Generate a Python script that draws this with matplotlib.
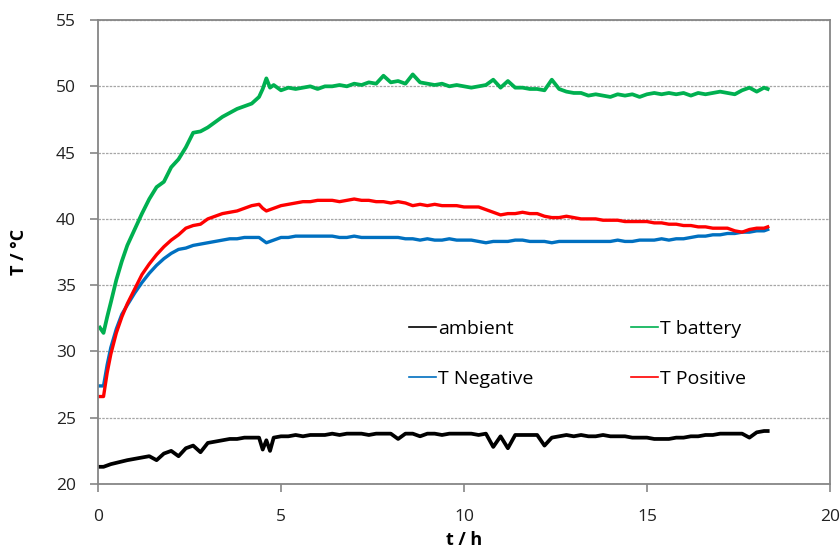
import numpy as np
import matplotlib
matplotlib.use("Agg")
import matplotlib.pyplot as plt

plt.rcParams['font.family'] = ['Open Sans', 'DejaVu Sans']

# ===== data =====
t_h = [0.05, 0.15, 0.25, 0.35, 0.5, 0.65, 0.8, 1.0,
       1.2, 1.4, 1.6, 1.8, 2.0, 2.2, 2.4, 2.6, 2.8, 3.0, 3.2, 3.4, 3.6, 3.8, 4.0, 4.2, 4.4,
       4.5, 4.6, 4.7, 4.8,
       5.0, 5.2, 5.4, 5.6, 5.8, 6.0, 6.2, 6.4, 6.6, 6.8, 7.0, 7.2, 7.4, 7.6, 7.8,
       8.0, 8.2, 8.4, 8.6, 8.8, 9.0, 9.2, 9.4, 9.6, 9.8, 10.0, 10.2, 10.4, 10.6, 10.8,
       11.0, 11.2, 11.4, 11.6, 11.8, 12.0, 12.2, 12.4, 12.6, 12.8, 13.0, 13.2, 13.4, 13.6, 13.8,
       14.0, 14.2, 14.4, 14.6, 14.8, 15.0, 15.2, 15.4, 15.6, 15.8, 16.0, 16.2, 16.4, 16.6, 16.8,
       17.0, 17.2, 17.4, 17.6, 17.8, 18.0, 18.2, 18.3]

ambient = [21.3, 21.3, 21.4, 21.5, 21.6, 21.7, 21.8, 21.9,
           22.0, 22.1, 21.8, 22.3, 22.5, 22.1, 22.7, 22.9, 22.4, 23.1, 23.2, 23.3, 23.4, 23.4, 23.5, 23.5, 23.5,
           22.6, 23.3, 22.5, 23.5,
           23.6, 23.6, 23.7, 23.6, 23.7, 23.7, 23.7, 23.8, 23.7, 23.8, 23.8, 23.8, 23.7, 23.8, 23.8,
           23.8, 23.4, 23.8, 23.8, 23.6, 23.8, 23.8, 23.7, 23.8, 23.8, 23.8, 23.8, 23.7, 23.8, 22.8,
           23.6, 22.7, 23.7, 23.7, 23.7, 23.7, 22.9, 23.5, 23.6, 23.7, 23.6, 23.7, 23.6, 23.6, 23.7,
           23.6, 23.6, 23.6, 23.5, 23.5, 23.5, 23.4, 23.4, 23.4, 23.5, 23.5, 23.6, 23.6, 23.7, 23.7,
           23.8, 23.8, 23.8, 23.8, 23.5, 23.9, 24.0, 24.0]

t_battery = [31.8, 31.4, 32.6, 33.7, 35.4, 36.8, 38.0, 39.2,
             40.4, 41.5, 42.4, 42.8, 43.9, 44.5, 45.4, 46.5, 46.6, 46.9, 47.3, 47.7, 48.0, 48.3, 48.5, 48.7, 49.2,
             49.8, 50.6, 49.9, 50.1,
             49.7, 49.9, 49.8, 49.9, 50.0, 49.8, 50.0, 50.0, 50.1, 50.0, 50.2, 50.1, 50.3, 50.2, 50.8,
             50.3, 50.4, 50.2, 50.9, 50.3, 50.2, 50.1, 50.2, 50.0, 50.1, 50.0, 49.9, 50.0, 50.1, 50.5,
             49.9, 50.4, 49.9, 49.9, 49.8, 49.8, 49.7, 50.5, 49.8, 49.6, 49.5, 49.5, 49.3, 49.4, 49.3,
             49.2, 49.4, 49.3, 49.4, 49.2, 49.4, 49.5, 49.4, 49.5, 49.4, 49.5, 49.3, 49.5, 49.4, 49.5,
             49.6, 49.5, 49.4, 49.7, 49.9, 49.6, 49.9, 49.8]

t_negative = [27.4, 27.4, 29.0, 30.3, 31.7, 32.8, 33.5, 34.4,
              35.2, 35.9, 36.5, 37.0, 37.4, 37.7, 37.8, 38.0, 38.1, 38.2, 38.3, 38.4, 38.5, 38.5, 38.6, 38.6, 38.6,
              38.4, 38.2, 38.3, 38.4,
              38.6, 38.6, 38.7, 38.7, 38.7, 38.7, 38.7, 38.7, 38.6, 38.6, 38.7, 38.6, 38.6, 38.6, 38.6,
              38.6, 38.6, 38.5, 38.5, 38.4, 38.5, 38.4, 38.4, 38.5, 38.4, 38.4, 38.4, 38.3, 38.2, 38.3,
              38.3, 38.3, 38.4, 38.4, 38.3, 38.3, 38.3, 38.2, 38.3, 38.3, 38.3, 38.3, 38.3, 38.3, 38.3,
              38.3, 38.4, 38.3, 38.3, 38.4, 38.4, 38.4, 38.5, 38.4, 38.5, 38.5, 38.6, 38.7, 38.7, 38.8,
              38.8, 38.9, 38.9, 39.0, 39.0, 39.1, 39.1, 39.2]

t_positive = [26.6, 26.6, 28.4, 29.8, 31.4, 32.6, 33.6, 34.7,
              35.8, 36.6, 37.3, 37.9, 38.4, 38.8, 39.3, 39.5, 39.6, 40.0, 40.2, 40.4, 40.5, 40.6, 40.8, 41.0, 41.1,
              40.8, 40.6, 40.7, 40.8,
              41.0, 41.1, 41.2, 41.3, 41.3, 41.4, 41.4, 41.4, 41.3, 41.4, 41.5, 41.4, 41.4, 41.3, 41.3,
              41.2, 41.3, 41.2, 41.0, 41.1, 41.0, 41.1, 41.0, 41.0, 41.0, 40.9, 40.9, 40.9, 40.7, 40.5,
              40.3, 40.4, 40.4, 40.5, 40.4, 40.4, 40.2, 40.1, 40.1, 40.2, 40.1, 40.0, 40.0, 40.0, 39.9,
              39.9, 39.9, 39.8, 39.8, 39.8, 39.8, 39.7, 39.7, 39.6, 39.6, 39.5, 39.5, 39.4, 39.4, 39.3,
              39.3, 39.3, 39.1, 39.0, 39.2, 39.3, 39.3, 39.4]

# ===== figure =====
fig = plt.figure(figsize=(8.4, 5.57), dpi=100)
ax = fig.add_axes([0.1167, 0.131, 0.8713, 0.833])

ax.plot(t_h, ambient, color='black', lw=2.7, label='ambient')
ax.plot(t_h, t_battery, color='#00B050', lw=2.7, label='T battery')
ax.plot(t_h, t_negative, color='#0070C0', lw=2.4, label='T Negative')
ax.plot(t_h, t_positive, color='#FF0000', lw=2.4, label='T Positive')

ax.set_xlim(0, 20)
ax.set_ylim(20, 55)
ax.set_xticks([0, 5, 10, 15, 20])
ax.set_yticks([20, 25, 30, 35, 40, 45, 50, 55])
ax.grid(True, axis='y', color='#a6a6a6', linestyle=(0, (2, 1)), lw=0.9)
ax.set_axisbelow(True)

for s in ax.spines.values():
    s.set_color('#868686')
    s.set_linewidth(1.3)

ax.tick_params(axis='both', direction='out', length=6, width=1.2, color='#868686',
               labelsize=12.5, labelcolor='#222222')
ax.tick_params(axis='y', pad=10)
ax.tick_params(axis='x', pad=12)

ax.set_xlabel('t / h', fontsize=13, fontweight='bold', labelpad=4)
ax.set_ylabel('T / °C', fontsize=13, fontweight='bold', labelpad=20)

h, l = ax.get_legend_handles_labels()
order = [0, 2, 1, 3]
leg = ax.legend([h[i] for i in order], [l[i] for i in order], ncol=2, frameon=False,
                loc='center', bbox_to_anchor=(0.655, 0.281), fontsize=14,
                handlelength=1.4, handletextpad=0.1, columnspacing=5.0, labelspacing=1.65)
for line in leg.get_lines():
    line.set_linewidth(1.2)

plt.savefig('out.png', dpi=100)
